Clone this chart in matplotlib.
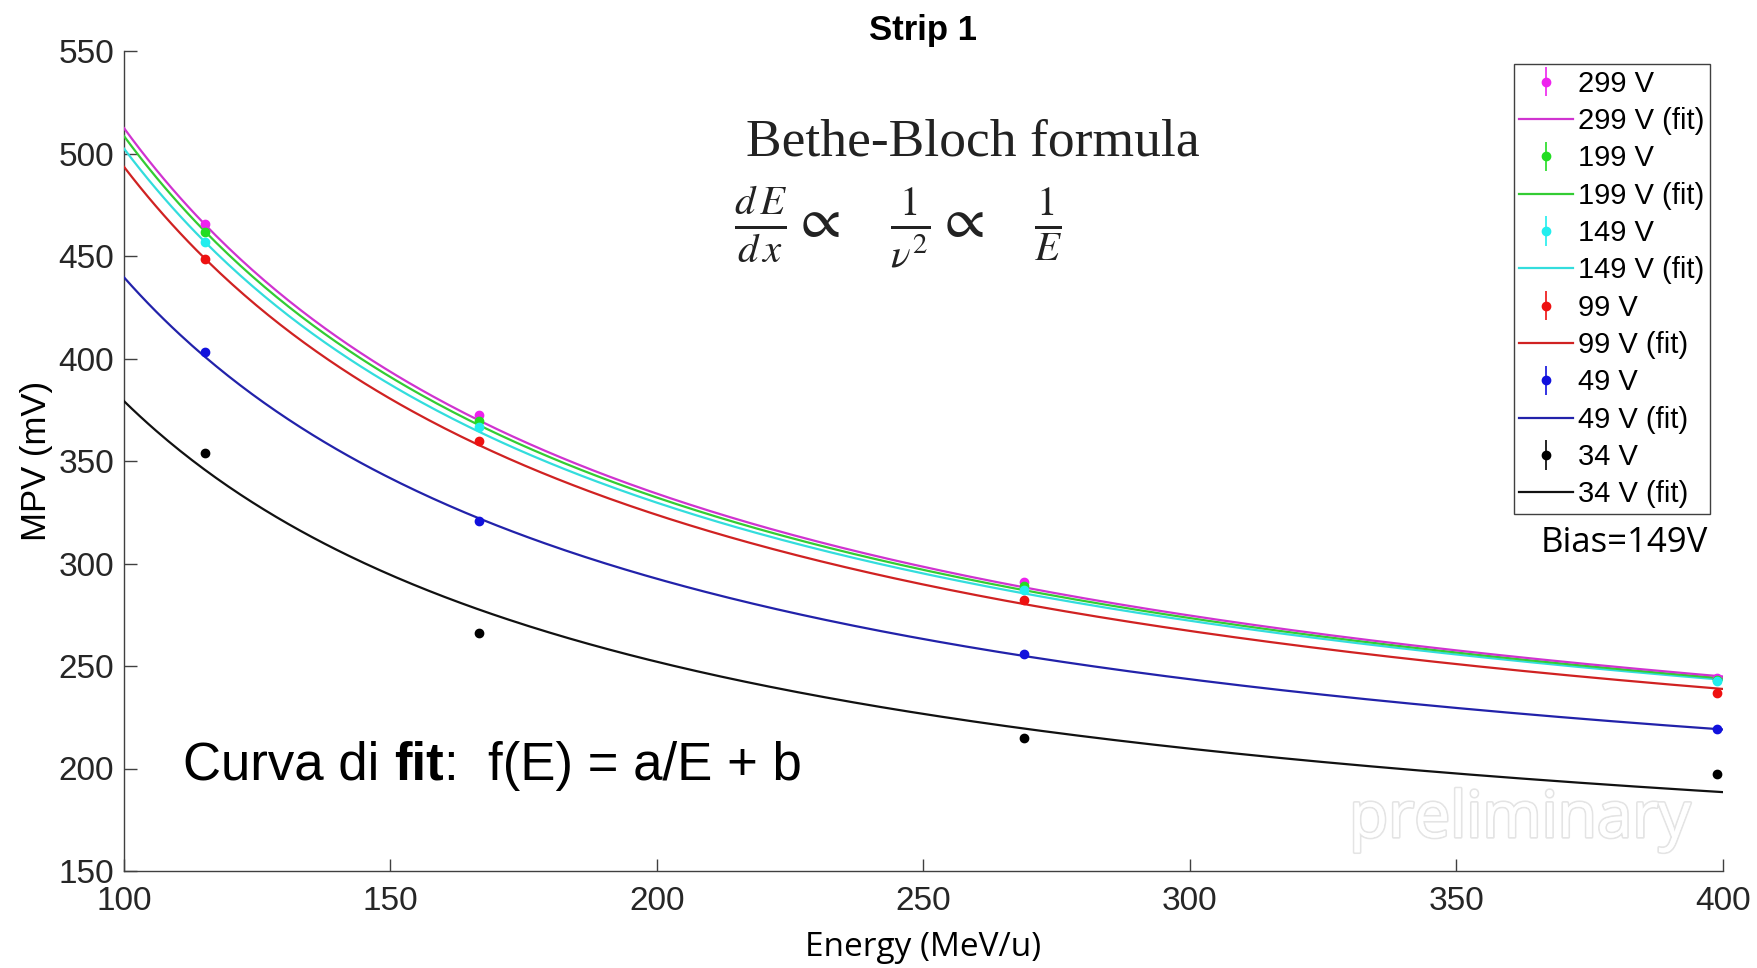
import numpy as np
import matplotlib
matplotlib.use('Agg')
import matplotlib.pyplot as plt
from matplotlib import patheffects
from matplotlib.offsetbox import TextArea, HPacker, AnchoredOffsetbox

# measured points (MPV vs beam energy), strip 1
energy = [115.2, 166.6, 268.8, 398.8]
mpv_299 = [465.7, 372.2, 290.8, 244.0]
mpv_199 = [461.6, 369.4, 288.9, 243.2]
mpv_149 = [456.8, 366.4, 287.2, 242.5]
mpv_99 = [448.3, 359.6, 282.0, 236.8]
mpv_49 = [403.2, 320.6, 255.8, 219.4]
mpv_34 = [353.9, 266.1, 214.9, 197.3]
mpv_err = [1.0, 1.0, 1.0, 1.0]

# fit parameters f(E) = a/E + b, one per bias
fit_a = [35670, 35270, 34550, 33960, 29410, 25430]
fit_b = [155.7, 155.8, 156.9, 153.9, 145.5, 124.9]

bias_labels = ['299 V', '199 V', '149 V', '99 V', '49 V', '34 V']
series = [mpv_299, mpv_199, mpv_149, mpv_99, mpv_49, mpv_34]
dot_colors = ['#ee22ee', '#22dd22', '#22eeee', '#ee1111', '#1111dd', '#000000']
line_colors = ['#d033d0', '#33cc33', '#33dddd', '#d02222', '#2222aa', '#111111']

xticks = [100, 150, 200, 250, 300, 350, 400]
yticks = [150, 200, 250, 300, 350, 400, 450, 500, 550]

plt.rcParams['mathtext.fontset'] = 'stix'

W, H = 1758, 968
fig = plt.figure(figsize=(W / 100, H / 100), dpi=100)
ax = fig.add_axes([124 / W, 1 - 871 / H, (1723 - 124) / W, (871 - 51) / H])

e_grid = np.linspace(100, 400, 400)
handles = []
for i in range(len(series)):
    eb = ax.errorbar(energy, series[i], yerr=mpv_err, fmt='o', ms=6,
                     color=dot_colors[i], elinewidth=1.2, capsize=0,
                     label=bias_labels[i], zorder=5)
    ln, = ax.plot(e_grid, fit_a[i] / e_grid + fit_b[i], color=line_colors[i],
                  lw=1.6, label=bias_labels[i] + ' (fit)', zorder=4 - i * 0.1)
    handles += [eb, ln]

ax.set_xlim(100, 400)
ax.set_ylim(150, 550)
ax.set_xticks(xticks)
ax.set_yticks(yticks)
for s in ['top', 'right']:
    ax.spines[s].set_visible(False)
for s in ['left', 'bottom']:
    ax.spines[s].set_color('#404040')
    ax.spines[s].set_linewidth(1.0)
ax.tick_params(direction='in', length=9, width=1, color='#404040',
               labelsize=24, labelcolor='#262626')
ax.tick_params(axis='x', pad=11)
ax.tick_params(axis='y', pad=7)
for lbl in ax.get_xticklabels() + ax.get_yticklabels():
    lbl.set_family('Liberation Sans')

ax.set_ylabel('MPV (mV)', fontsize=25, family='Liberation Sans', labelpad=4)
ax.set_xlabel('Energy (MeV/u)', fontsize=24, family='Open Sans', labelpad=10)
ax.set_title('Strip 1', fontsize=25, fontweight='bold',
             family='Liberation Sans', pad=8)

leg = ax.legend(handles=handles, labels=[h.get_label() for h in handles],
                loc='upper right', bbox_to_anchor=(1710 / W, 1 - 64 / H),
                bbox_transform=fig.transFigure,
                prop={'family': 'Liberation Sans', 'size': 21},
                fancybox=False, edgecolor='#404040', framealpha=1,
                handlelength=1.85, handletextpad=0.15, labelspacing=0.32,
                borderpad=0.2, borderaxespad=0)
leg.get_frame().set_linewidth(1.0)

fig.text(1624 / W, 1 - 543 / H, 'Bias=149V', fontsize=25, family='Open Sans',
         ha='center', va='center')

fig.text(746 / W, 1 - 143 / H, 'Bethe-Bloch formula', fontsize=38.5,
         family='Liberation Serif', color='#222222', ha='left', va='center')
fig.text(734 / W, 1 - 228 / H,
         r'$\frac{d\,E}{d\,x}\propto\quad\frac{1}{\nu^{2}}\propto\quad\frac{1}{E}$',
         fontsize=42, color='#222222', ha='left', va='center')

parts = [TextArea('Curva di ', textprops=dict(fontsize=38, family='Liberation Sans')),
         TextArea('fit', textprops=dict(fontsize=38, family='Liberation Sans',
                                        fontweight='bold')),
         TextArea(':  f(E) = a/E + b', textprops=dict(fontsize=38,
                                                     family='Liberation Sans'))]
box = HPacker(children=parts, align='baseline', pad=0, sep=0)
anc = AnchoredOffsetbox(loc='center left', child=box, pad=0, borderpad=0,
                        frameon=False, bbox_to_anchor=(183 / W, 1 - 766 / H),
                        bbox_transform=fig.transFigure)
ax.add_artist(anc)

fig.text(1520 / W, 1 - 820 / H, 'preliminary', fontsize=46, family='Open Sans',
         color='white', ha='center', va='center', zorder=0,
         path_effects=[patheffects.withStroke(linewidth=2.5, foreground='#e4e4e4'),
                       patheffects.Normal()])

fig.savefig('out.png', dpi=100)
